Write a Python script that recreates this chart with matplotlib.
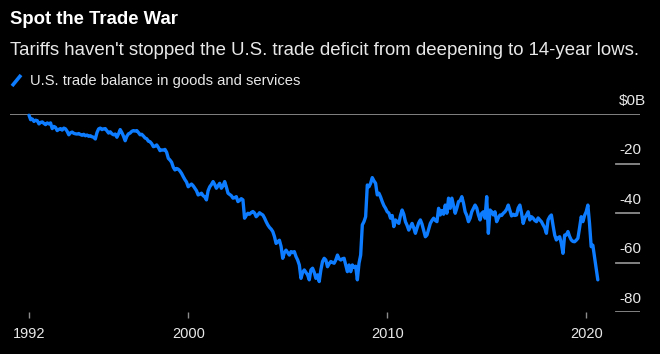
import numpy as np
import matplotlib
matplotlib.use("Agg")
import matplotlib.pyplot as plt
import matplotlib.transforms as mtransforms

# ---- data: monthly U.S. trade balance, goods & services ($B), Jan 1992 - Aug 2020
start_year = 1992
y1992 = [-0.5, -2.3, -2.0, -3.0, -2.5, -2.7, -4.0, -3.4, -3.2, -3.8, -4.3, -3.6]
y1993 = [-4.0, -3.6, -5.9, -5.0, -5.4, -6.7, -6.2, -5.9, -6.5, -5.7, -6.0, -7.0]
y1994 = [-8.4, -7.6, -7.3, -7.8, -8.0, -8.1, -7.9, -8.3, -8.6, -8.2, -8.8, -8.5]
y1995 = [-9.0, -8.8, -9.2, -9.4, -10.1, -7.5, -6.0, -5.7, -6.3, -6.0, -5.9, -6.8]
y1996 = [-7.7, -7.2, -8.0, -8.4, -8.1, -9.4, -8.0, -6.3, -7.5, -9.0, -10.8, -9.0]
y1997 = [-8.0, -7.7, -7.0, -6.7, -6.9, -6.7, -7.5, -8.4, -8.2, -8.9, -9.7, -10.0]
y1998 = [-11.0, -11.2, -12.0, -13.2, -13.0, -12.5, -13.5, -14.8, -14.5, -14.6, -14.3, -15.5]
y1999 = [-17.9, -18.6, -19.5, -21.5, -22.6, -22.0, -22.3, -23.0, -24.0, -25.3, -26.5, -27.5]
y2000 = [-29.4, -28.8, -28.3, -29.0, -30.0, -31.0, -32.7, -32.4, -32.0, -33.0, -33.5, -34.7]
y2001 = [-31.0, -29.4, -28.5, -27.3, -28.5, -30.0, -29.0, -28.0, -30.0, -29.0, -27.3, -29.5]
y2002 = [-32.0, -32.5, -33.0, -34.0, -33.8, -33.4, -35.4, -34.9, -34.2, -34.7, -42.1, -41.0]
y2003 = [-40.1, -40.5, -39.8, -39.4, -40.0, -41.5, -40.8, -39.9, -40.4, -40.8, -42.0, -43.5]
y2004 = [-44.8, -45.8, -46.5, -47.5, -49.5, -52.3, -51.6, -51.0, -53.5, -58.3, -56.0, -55.0]
y2005 = [-56.0, -57.0, -55.6, -56.0, -55.6, -57.6, -59.0, -61.0, -66.4, -64.0, -63.0, -64.0]
y2006 = [-65.0, -67.0, -63.0, -62.3, -64.0, -66.4, -65.0, -67.7, -63.0, -59.6, -58.3, -59.0]
y2007 = [-61.7, -60.5, -59.6, -60.0, -60.3, -59.0, -57.0, -58.5, -59.0, -58.5, -58.3, -61.0]
y2008 = [-63.7, -61.0, -63.7, -61.0, -62.0, -61.5, -67.0, -60.3, -57.0, -44.8, -43.5, -41.5]
y2009 = [-28.7, -29.4, -28.0, -25.7, -27.0, -28.0, -32.7, -32.0, -33.5, -35.4, -37.0, -38.1]
y2010 = [-39.5, -40.0, -42.1, -41.0, -45.5, -42.8, -43.5, -44.2, -41.0, -38.8, -40.5, -43.5]
y2011 = [-45.0, -46.9, -45.5, -44.2, -46.0, -48.2, -46.0, -44.0, -42.8, -44.5, -47.0, -49.6]
y2012 = [-48.9, -46.5, -44.2, -43.0, -42.1, -43.0, -43.5, -38.1, -40.8, -39.0, -40.5, -36.8]
y2013 = [-40.1, -34.0, -38.1, -34.0, -37.0, -40.1, -38.0, -35.4, -35.0, -33.4, -36.0, -39.5]
y2014 = [-41.0, -43.5, -42.1, -39.5, -38.1, -36.8, -38.0, -40.8, -42.8, -40.1, -39.5, -42.1]
y2015 = [-33.4, -48.2, -38.8, -39.5, -40.8, -39.5, -43.5, -42.0, -40.8, -41.0, -40.1, -39.5]
y2016 = [-38.5, -36.8, -39.0, -41.2, -40.5, -41.0, -40.8, -38.0, -36.8, -40.0, -44.2, -42.0]
y2017 = [-40.8, -39.5, -42.8, -41.5, -42.1, -43.0, -43.5, -42.0, -42.8, -43.5, -44.8, -46.0]
y2018 = [-48.2, -42.8, -41.5, -40.8, -45.0, -48.9, -50.9, -50.0, -49.6, -52.3, -56.3, -48.9]
y2019 = [-48.9, -47.5, -49.5, -50.9, -51.5, -51.6, -51.0, -50.2, -46.0, -41.5, -43.5, -41.0]
y2020 = [-39.5, -36.8, -44.2, -53.6, -53.0, -57.6, -62.0, -67.0]

values = (y1992 + y1993 + y1994 + y1995 + y1996 + y1997 + y1998 + y1999 + y2000
          + y2001 + y2002 + y2003 + y2004 + y2005 + y2006 + y2007 + y2008 + y2009
          + y2010 + y2011 + y2012 + y2013 + y2014 + y2015 + y2016 + y2017 + y2018
          + y2019 + y2020)
x_ticks = [1992, 2000, 2010, 2020]
x_tick_labels = ["1992", "2000", "2010", "2020"]
y_ticks = [0, -20, -40, -60, -80]
y_tick_labels = ["$0B", "-20", "-40", "-60", "-80"]

title = "Spot the Trade War"
subtitle = "Tariffs haven't stopped the U.S. trade deficit from deepening to 14-year lows."
legend_label = "U.S. trade balance in goods and services"

# ---- style
W, H = 660, 354
BG = "#000000"
BLUE = "#0d7cff"
GRID = "#8c8c8c"
TXT = "#e8e8e8"
plt.rcParams["font.family"] = ["Liberation Sans", "DejaVu Sans"]

fig = plt.figure(figsize=(W / 100, H / 100), dpi=100, facecolor=BG)

def fx(px):
    return px / W

def fy(py):
    return 1 - py / H

# axes: x from 10px to 640px, y from 114px (0) to 312px (-80)
ax = fig.add_axes([fx(10), fy(312), fx(640) - fx(10), fy(114) - fy(312)])
ax.set_facecolor(BG)

x = start_year + np.arange(len(values)) / 12.0
px_per_year = 19.9
ax.set_xlim(1992 - 19 / px_per_year, 1992 + (640 - 29) / px_per_year)
ax.set_ylim(-80, 0)

for s in ax.spines.values():
    s.set_visible(False)

# gridlines (short, right side) and full zero line
grid_x0 = (616 - 10) / 630
for yt in y_ticks:
    if yt == 0:
        ax.axhline(yt, color=GRID, lw=1.3, zorder=1)
    else:
        ax.axhline(yt, xmin=grid_x0, xmax=1.0, color=GRID, lw=1.3, zorder=1)

trans = mtransforms.blended_transform_factory(ax.transAxes, ax.transData)
for yt, lab in zip(y_ticks, y_tick_labels):
    ax.annotate(lab, xy=((619 - 10) / 630, yt), xycoords=trans,
                xytext=(0, 6.5), textcoords="offset points",
                ha="left", va="baseline", color=TXT, fontsize=11,
                annotation_clip=False)

ax.plot(x, values, color=BLUE, lw=2.4, solid_joinstyle="round",
        solid_capstyle="round", zorder=3, clip_on=False)

ax.set_yticks([])
ax.set_xticks(x_ticks)
ax.set_xticklabels(x_tick_labels)
ax.tick_params(axis="x", colors=GRID, length=4.5, width=1.0, pad=6,
               labelcolor=TXT, labelsize=10.5, direction="out")

# titles
fig.text(fx(10), fy(24), title, color="#ffffff", fontsize=13.3,
         fontweight="bold", ha="left", va="baseline")
fig.text(fx(10), fy(55), subtitle, color=TXT, fontsize=13.4,
         ha="left", va="baseline")

# legend
fig.add_artist(plt.Line2D([fx(12), fx(21)], [fy(86), fy(75)], color=BLUE,
                          lw=2.6, solid_capstyle="butt", transform=fig.transFigure))
fig.text(fx(30), fy(85.5), legend_label, color=TXT, fontsize=10.6,
         ha="left", va="baseline")

fig.savefig("out.png", dpi=100, facecolor=BG)
